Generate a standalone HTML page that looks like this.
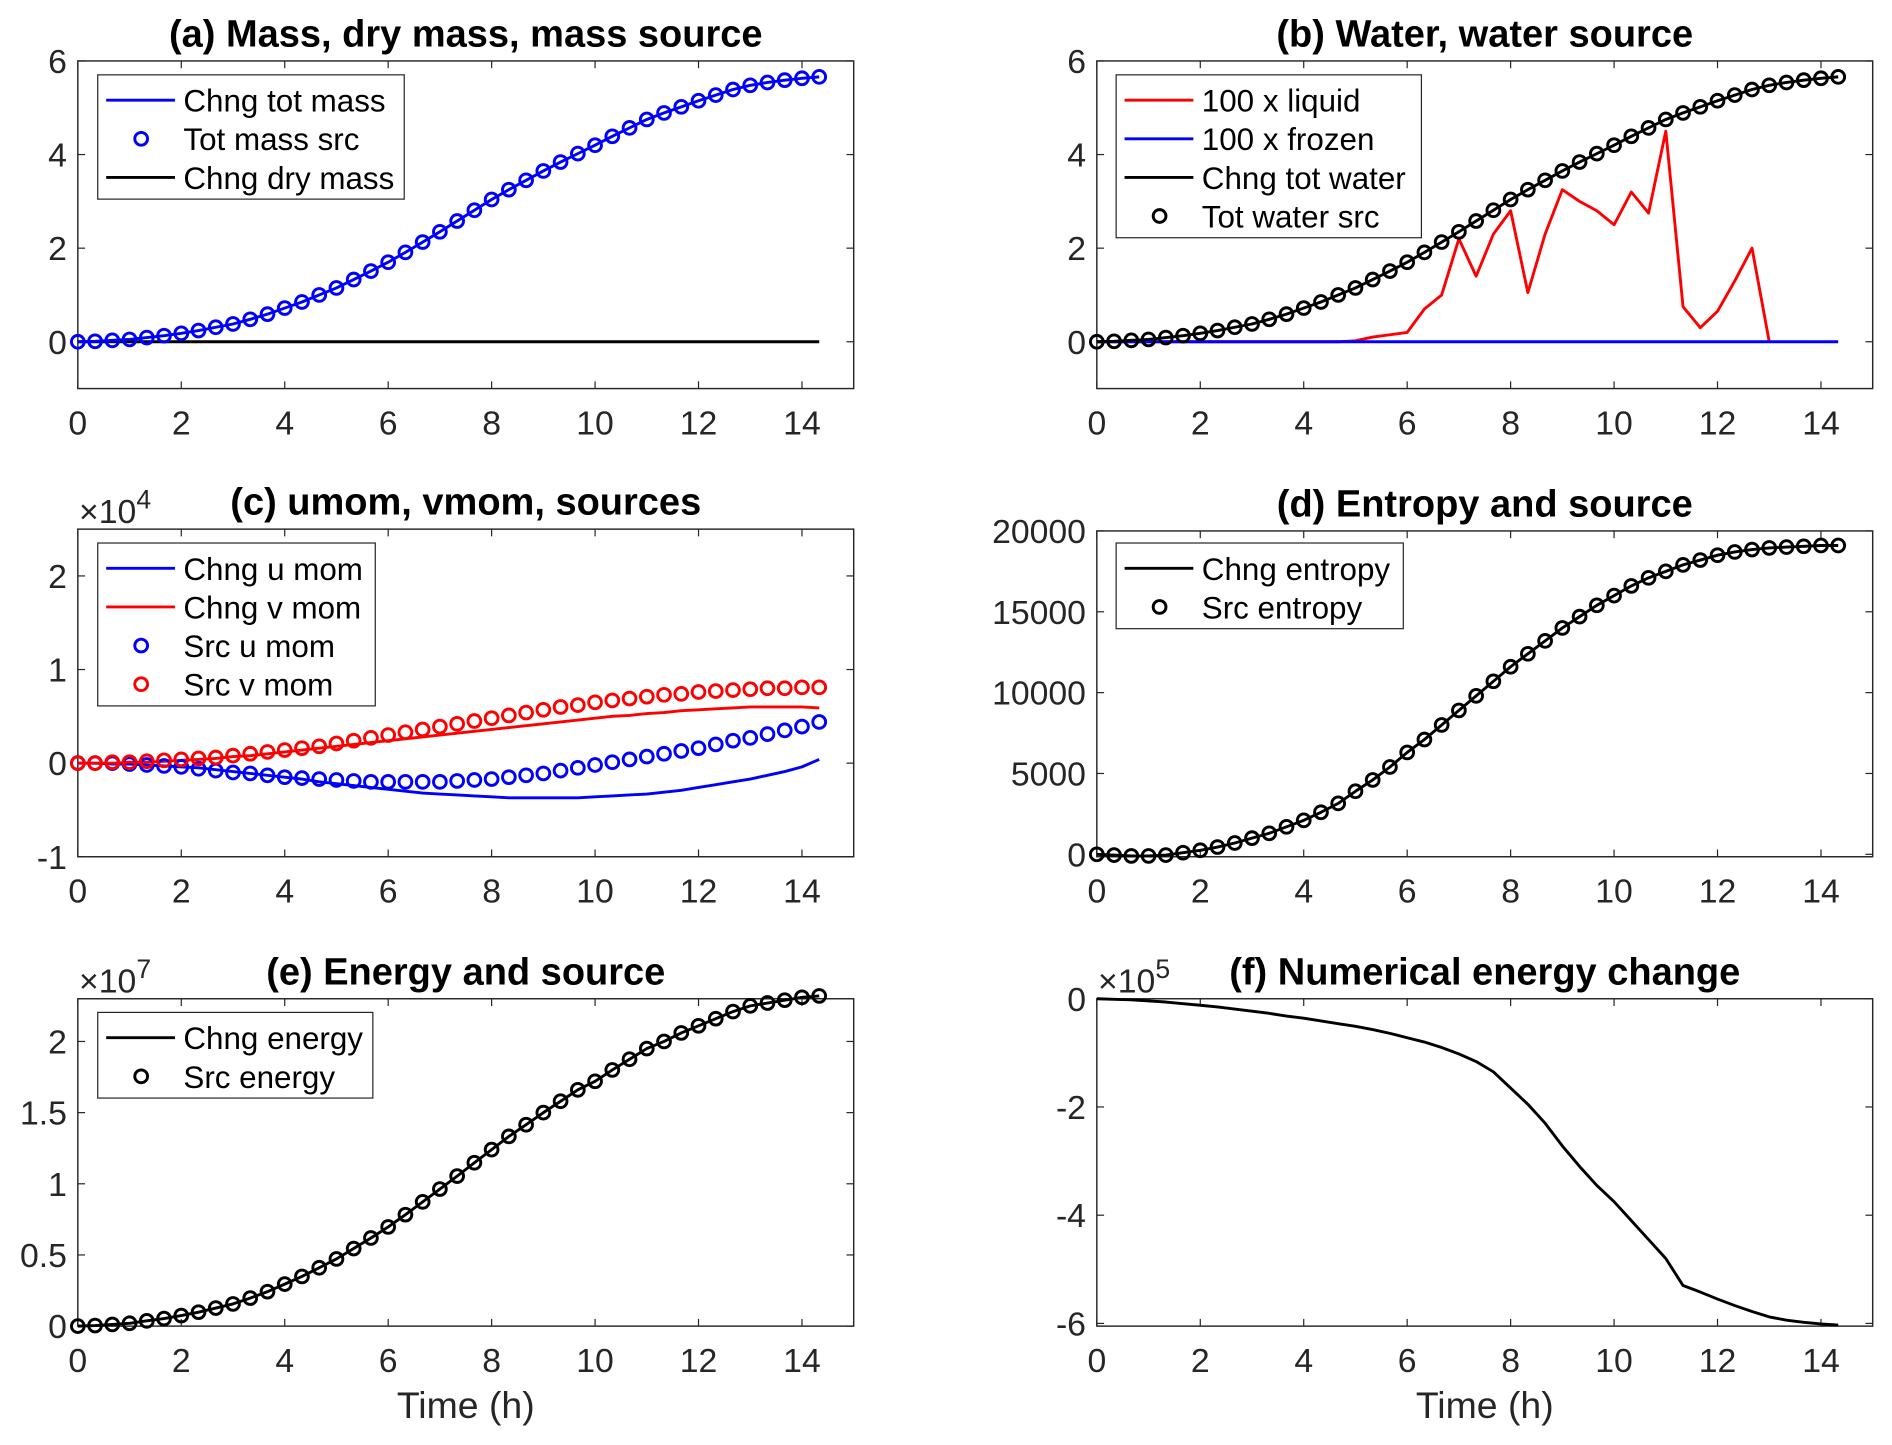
<!DOCTYPE html>
<html><head><meta charset="utf-8">
<style>
html,body{margin:0;padding:0;background:#fff;}
svg{display:block;}
text{font-family:"Liberation Sans",Arial,sans-serif;}
</style></head>
<body>
<svg id="fig" width="1892" height="1445" viewBox="0 0 1568 1197.5" xmlns="http://www.w3.org/2000/svg"></svg>
<script>
// time axis: every 20 min, 0 .. 14.33 h
const times = [];
for (let i = 0; i < 44; i++) times.push(i / 3);
const xTicks = [0, 2, 4, 6, 8, 10, 12, 14];

// (a) mass
const massChange = [0,.01,.03,.05,.09,.13,.18,.24,.31,.38,.48,.59,.72,.85,1.0,1.15,1.33,1.51,1.7,1.91,2.13,2.35,2.58,2.81,3.04,3.25,3.45,3.65,3.84,4.02,4.2,4.39,4.57,4.75,4.89,5.02,5.15,5.27,5.39,5.48,5.54,5.59,5.63,5.66];
const massSource = massChange.slice();
const dryMass = times.map(() => 0);
// (b) water
const waterChange = massChange.slice();
const waterSource = massChange.slice();
const liquid100 = [0,0,0,0,0,0,0,0,0,0,0,0,0,0,0,.02,.1,.15,.2,.7,1.0,2.2,1.4,2.3,2.8,1.05,2.3,3.25,3.0,2.8,2.5,3.2,2.75,4.5,.75,.3,.65,1.3,2.0,0,null,null,null,null];
const frozen100 = times.map(() => 0);
// (c) momentum (x1e4)
const uMomChange = [0,0,-.01,-.01,-.02,-.03,-.04,-.05,-.07,-.09,-.11,-.13,-.15,-.17,-.2,-.22,-.24,-.26,-.28,-.3,-.32,-.33,-.34,-.35,-.36,-.37,-.37,-.37,-.37,-.37,-.36,-.35,-.34,-.33,-.31,-.29,-.26,-.23,-.2,-.17,-.13,-.09,-.04,.04];
const vMomChange = [0,0,0,.01,.01,.02,.03,.04,.05,.07,.08,.1,.12,.14,.16,.18,.2,.22,.24,.26,.28,.3,.32,.34,.36,.38,.4,.42,.44,.46,.48,.5,.51,.53,.54,.56,.57,.58,.59,.6,.6,.6,.6,.59];
const uMomSource = [0,0,0,-.01,-.02,-.03,-.04,-.06,-.08,-.1,-.11,-.13,-.15,-.16,-.17,-.18,-.19,-.2,-.2,-.2,-.2,-.2,-.19,-.18,-.17,-.15,-.13,-.11,-.08,-.05,-.02,.01,.04,.07,.1,.13,.16,.2,.24,.27,.31,.35,.39,.44];
const vMomSource = [0,0,.01,.01,.02,.03,.04,.05,.06,.08,.1,.12,.14,.16,.18,.21,.24,.27,.3,.33,.36,.39,.42,.45,.48,.51,.54,.57,.6,.62,.65,.67,.69,.71,.73,.74,.76,.77,.78,.79,.8,.8,.81,.81];
// (d) entropy
const entropyChange = [0,-50,-100,-100,-50,100,250,450,700,1000,1300,1700,2100,2600,3150,3900,4600,5400,6300,7100,8000,8900,9800,10700,11600,12400,13200,14000,14700,15400,16000,16600,17100,17500,17900,18200,18500,18700,18850,18950,19000,19050,19100,19100];
const entropySource = entropyChange.slice();
// (e) energy (x1e7)
const energyChange = [0,.004,.012,.02,.037,.053,.074,.098,.127,.156,.197,.242,.295,.349,.41,.472,.545,.619,.697,.783,.873,.963,1.054,1.148,1.24,1.333,1.415,1.5,1.58,1.66,1.72,1.8,1.875,1.95,2.0,2.06,2.11,2.16,2.21,2.25,2.27,2.29,2.31,2.32];
const energySource = energyChange.slice();
// (f) numerical energy change (x1e5)
const numEnergy = [0,-.01,-.02,-.04,-.06,-.09,-.12,-.15,-.19,-.23,-.27,-.32,-.36,-.41,-.46,-.51,-.57,-.64,-.72,-.8,-.9,-1.02,-1.16,-1.35,-1.65,-1.95,-2.3,-2.72,-3.1,-3.45,-3.75,-4.1,-4.45,-4.8,-5.3,-5.42,-5.55,-5.67,-5.78,-5.88,-5.94,-5.98,-6.01,-6.03];

const yTicksA = [0,2,4,6];
const yTicksC = [-1,0,1,2];
const yTicksD = [0,5000,10000,15000,20000];
const yTicksE = [0,0.5,1,1.5,2];
const yTickLabelsE = ['0','0.5','1','1.5','2'];
const yTicksF = [-6,-4,-2,0];

const NS = 'http://www.w3.org/2000/svg';
const fig = document.getElementById('fig');
function mk(tag, attrs, parent) {
  const e = document.createElementNS(NS, tag);
  for (const k in attrs) e.setAttribute(k, attrs[k]);
  (parent || fig).appendChild(e);
  return e;
}

function axes(cfg) {
  const g = mk('g', {});
  
  
  const L = cfg.L, R = cfg.R, T = cfg.T, B = cfg.B;
  const xs = t => L + (t / 15) * (R - L);
  const ys = v => B - (v - cfg.ymin) / (cfg.ymax - cfg.ymin) * (B - T);
  const bg = mk('rect', {x: L, y: T, width: R - L, height: B - T, fill: '#fff', stroke: 'none'}, g);
  
  
  xTicks.forEach(t => {
    const x = xs(t);
    mk('line', {x1: x, x2: x, y1: B, y2: B - 6, stroke: '#262626', 'stroke-width': 1}, g);
    mk('line', {x1: x, x2: x, y1: T, y2: T + 6, stroke: '#262626', 'stroke-width': 1}, g);
    const tl = mk('text', {x: x, y: B + 38, 'font-size': 28, fill: '#262626', 'text-anchor': 'middle'}, g);
    tl.textContent = String(t);
    
    
  });
  cfg.yticks.forEach((v, i) => {
    const y = ys(v);
    mk('line', {x1: L, x2: L + 6, y1: y, y2: y, stroke: '#262626', 'stroke-width': 1}, g);
    mk('line', {x1: R, x2: R - 6, y1: y, y2: y, stroke: '#262626', 'stroke-width': 1}, g);
    const tl = mk('text', {x: L - 9, y: y + 10, 'font-size': 28, fill: '#262626', 'text-anchor': 'end'}, g);
    tl.textContent = cfg.ylabels ? cfg.ylabels[i] : String(v);
    
    
  });
  const box = mk('rect', {x: L, y: T, width: R - L, height: B - T, fill: 'none', stroke: '#262626', 'stroke-width': 1.2}, g);
  
  
  if (cfg.exp) {
    const ex = mk('text', {x: L + 1, y: T - 5, 'font-size': 28, fill: '#262626'}, g);
    ex.innerHTML = '×10<tspan dy="-12" font-size="22">' + cfg.exp + '</tspan>';
    
    
  }
  const title = mk('text', {x: (L + R) / 2, y: T - 12, 'font-size': 31.5, 'font-weight': 'bold', fill: '#000', 'text-anchor': 'middle'}, g);
  title.textContent = cfg.title;
  
  
  if (cfg.xlabel) {
    const xl = mk('text', {x: (L + R) / 2, y: B + 76, 'font-size': 31, fill: '#262626', 'text-anchor': 'middle'}, g);
    xl.textContent = 'Time (h)';
    
    
  }
  return {g, xs, ys};
}

function line(ax, vals, color, name) {
  let d = '', started = false;
  vals.forEach((v, i) => {
    if (v === null) { started = false; return; }
    d += (started ? 'L' : 'M') + ax.xs(times[i]).toFixed(2) + ' ' + ax.ys(v).toFixed(2);
    started = true;
  });
  const p = mk('path', {d: d, fill: 'none', stroke: color, 'stroke-width': 2.4, 'stroke-linejoin': 'round'}, ax.g);
  
  
}
function circles(ax, vals, color, name) {
  const gg = mk('g', {}, ax.g);
  
  
  vals.forEach((v, i) => {
    const c = mk('circle', {cx: ax.xs(times[i]), cy: ax.ys(v), r: 5.3, fill: 'none', stroke: color, 'stroke-width': 2.4}, gg);
    
    
  });
}
function legend(ax, x, y, w, entries) {
  const h = entries.length * 32 + 7;
  const lg = mk('g', {}, ax.g);
  
  
  mk('rect', {x: x, y: y, width: w, height: h, fill: '#fff', stroke: '#262626', 'stroke-width': 1}, lg);
  entries.forEach((e, i) => {
    const cy = y + 21 + i * 32;
    const eg = mk('g', {}, lg);
    
    
    if (e.type === 'line') mk('line', {x1: x + 7, x2: x + 64, y1: cy, y2: cy, stroke: e.color, 'stroke-width': 2.4}, eg);
    else mk('circle', {cx: x + 36, cy: cy, r: 5.3, fill: 'none', stroke: e.color, 'stroke-width': 2.4}, eg);
    const t = mk('text', {x: x + 71, y: cy + 9.5, 'font-size': 26, fill: '#000'}, eg);
    t.textContent = e.label;
  });
}

const LX = [64.5, 909], RX = [707.5, 1552];
// (a)
let a = axes({name: 'panel-a', L: LX[0], R: RX[0], T: 50.5, B: 322, ymin: -1, ymax: 6, yticks: yTicksA, title: '(a) Mass, dry mass, mass source'});
line(a, dryMass, '#000', 'dry-mass-line');
line(a, massChange, '#0000ff', 'tot-mass-line');
circles(a, massSource, '#0000ff', 'tot-mass-src-markers');
legend(a, 81, 62, 254, [{type:'line',color:'#0000ff',label:'Chng tot mass'},{type:'circle',color:'#0000ff',label:'Tot mass src'},{type:'line',color:'#000',label:'Chng dry mass'}]);
// (b)
let b = axes({name: 'panel-b', L: LX[1], R: RX[1], T: 50.5, B: 322, ymin: -1, ymax: 6, yticks: yTicksA, title: '(b) Water, water source'});
line(b, liquid100, '#ff0000', 'liquid-line');
line(b, frozen100, '#0000ff', 'frozen-line');
line(b, waterChange, '#000', 'tot-water-line');
circles(b, waterSource, '#000', 'tot-water-src-markers');
legend(b, 925, 62, 253, [{type:'line',color:'#ff0000',label:'100 x liquid'},{type:'line',color:'#0000ff',label:'100 x frozen'},{type:'line',color:'#000',label:'Chng tot water'},{type:'circle',color:'#000',label:'Tot water src'}]);
// (c)
let c = axes({name: 'panel-c', L: LX[0], R: RX[0], T: 438.5, B: 710, ymin: -1, ymax: 2.5, yticks: yTicksC, exp: '4', title: '(c) umom, vmom, sources'});
line(c, uMomChange, '#0000ff', 'u-mom-line');
line(c, vMomChange, '#ff0000', 'v-mom-line');
circles(c, uMomSource, '#0000ff', 'u-mom-src-markers');
circles(c, vMomSource, '#ff0000', 'v-mom-src-markers');
legend(c, 81, 450, 230, [{type:'line',color:'#0000ff',label:'Chng u mom'},{type:'line',color:'#ff0000',label:'Chng v mom'},{type:'circle',color:'#0000ff',label:'Src u mom'},{type:'circle',color:'#ff0000',label:'Src v mom'}]);
// (d)
let d = axes({name: 'panel-d', L: LX[1], R: RX[1], T: 440, B: 710, ymin: -150, ymax: 20000, yticks: yTicksD, title: '(d) Entropy and source'});
line(d, entropyChange, '#000', 'entropy-line');
circles(d, entropySource, '#000', 'entropy-src-markers');
legend(d, 925, 450, 238, [{type:'line',color:'#000',label:'Chng entropy'},{type:'circle',color:'#000',label:'Src entropy'}]);
// (e)
let e = axes({name: 'panel-e', L: LX[0], R: RX[0], T: 827.7, B: 1099, ymin: 0, ymax: 2.30, yticks: yTicksE, ylabels: yTickLabelsE, exp: '7', title: '(e) Energy and source', xlabel: true});
line(e, energyChange, '#000', 'energy-line');
circles(e, energySource, '#000', 'energy-src-markers');
legend(e, 81, 839, 228, [{type:'line',color:'#000',label:'Chng energy'},{type:'circle',color:'#000',label:'Src energy'}]);
// (f)
let f = axes({name: 'panel-f', L: LX[1], R: RX[1], T: 827.7, B: 1099, ymin: -6.05, ymax: 0, yticks: yTicksF, exp: '5', title: '(f) Numerical energy change', xlabel: true});
line(f, numEnergy, '#000', 'numerical-energy-line');
</script>
</body></html>
